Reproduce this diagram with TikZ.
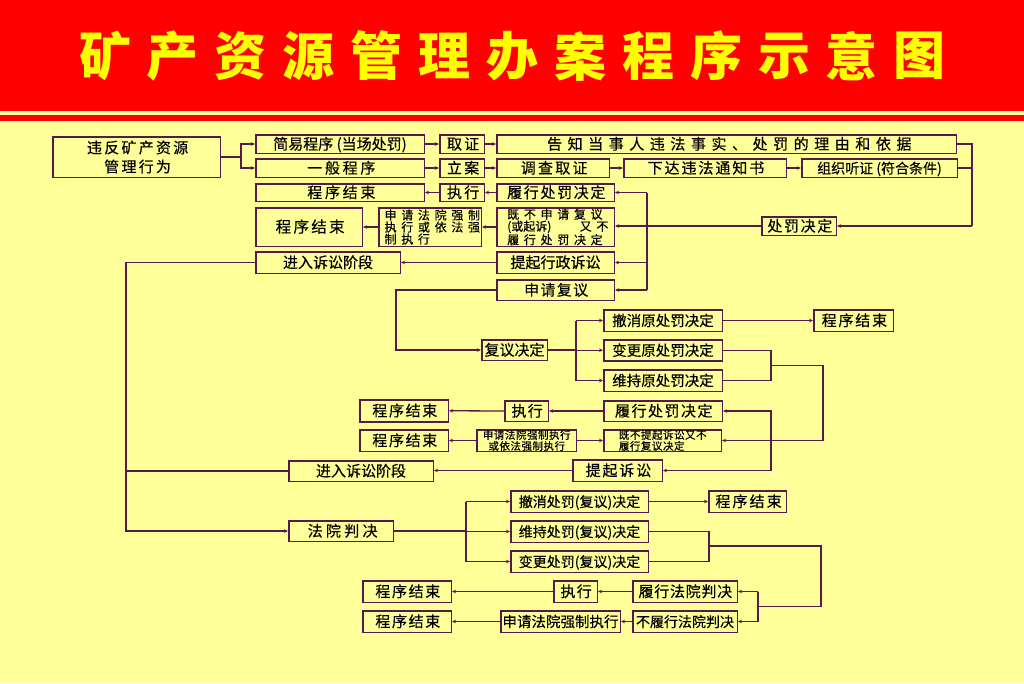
\documentclass[tikz,border=0pt]{standalone}
\usepackage{fontspec}
\setmainfont{Noto Sans CJK SC}[FakeBold=0.4]
\newfontfamily\tfont{Noto Sans CJK SC}
\usetikzlibrary{arrows.meta}
\definecolor{bg}{HTML}{FFFF99}
\definecolor{lnc}{RGB}{85,25,75}
\definecolor{hdr}{HTML}{FF0000}
\definecolor{ttlc}{HTML}{FFFF00}
\newcommand\ls[2]{{\addfontfeature{LetterSpace=#1}#2}\kern-\dimexpr 0.01em*#1\relax}
\newcommand\bx[7][]{\node[box,minimum width={#5-#3-1.5},minimum height={#6-#4-1.5},#1] (#2) at ({(#3+#5)/2},{(#4+#6)/2}) {#7};}
\tikzset{
  box/.style={draw=lnc, line width=1.5pt, fill=bg, inner sep=0pt, text=black,
    font=\fontsize{15}{15}\selectfont, text height=11.5pt, text depth=0.5pt},
  ml/.style={text height={}, text depth={}},
  fs/.style={font=\fontsize{#1}{#1}\selectfont},
  wire/.style={draw=lnc, line width=1.3pt},
  ar/.style={wire, -{Stealth[length=4pt,width=3.5pt]}},
  ttl/.style={text=ttlc, font=\tfont\fontsize{52}{52}\selectfont\bfseries, inner sep=0pt}
}
\begin{document}
\begin{tikzpicture}[x=1pt,y=-1pt]
\useasboundingbox (0,0) rectangle (1024,683);
\fill[bg] (0,0) rectangle (1024,683);
\fill[hdr] (0,0) rectangle (1024,111);
\fill[hdr] (0,115) rectangle (1024,121);
\foreach \c [count=\i] in {矿,产,资,源,管,理,办,案,程,序,示,意,图}
  {\node[ttl] (t\i) at ({105+67.9*(\i-1)},56) {\c};}

% boxes
\bx[ml,align=center,font=\fontsize{15}{19}\selectfont]{a}{52}{136}{221}{178}{\ls{15}{违反矿产资源}\\\ls{15}{管理行为}}
\bx{jy}{255}{134}{425}{154}{简易程序 (当场处罚)}
\bx{yb}{255}{158}{425}{178}{\ls{18}{一般程序}}
\bx{qz}{439}{134}{485}{154}{\ls{15}{取证}}
\bx{la}{439}{158}{485}{178}{\ls{15}{立案}}
\bx{gz}{496}{134}{957}{154}{\ls{37}{告知当事人违法事实、处罚的理由和依据}}
\bx{dc}{496}{158}{610}{178}{\ls{15}{调查取证}}
\bx{xd}{623}{158}{787}{178}{\ls{13}{下达违法通知书}}
\bx[fs=14]{zz}{801}{158}{958}{178}{组织听证 (符合条件)}
\bx{cf}{761}{216}{837}{236}{\ls{11}{处罚决定}}
\bx{js1}{255}{183}{425}{202}{\ls{18}{程序结束}}
\bx{zx1}{439}{183}{485}{202}{\ls{15}{执行}}
\bx{lx1}{496}{183}{615}{202}{\ls{11}{履行处罚决定}}
\bx[fs=15.5]{js2}{255}{207}{363}{247}{\ls{15}{程序结束}}
\bx[ml,align=left,font=\fontsize{12}{12}\selectfont]{sq1}{378}{207}{482}{247}{\ls{39}{申请法院强制}\\\ls{39}{执行或依法强}\\\ls{39}{制执行}}
\bx[ml,font=\fontsize{12}{12}\selectfont]{jb1}{496}{207}{615}{247}{\parbox{96.5pt}{\ls{39}{既不申请复议}\\(或起诉)\hfill\ls{39}{又不}\\\ls{39}{履行处罚决定}}}
\bx{ts1}{496}{251}{615}{274}{提起行政诉讼}
\bx{jr1}{255}{251}{401}{274}{进入诉讼阶段}
\bx{sf}{496}{279}{615}{301}{\ls{9}{申请复议}}
\bx{fj}{481}{339}{548}{361}{复议决定}
\bx[fs=14.5]{cx1}{603}{309}{723}{332}{撤消原处罚决定}
\bx[fs=14.5]{bg1}{603}{339}{723}{361.5}{变更原处罚决定}
\bx[fs=14.5]{wc1}{603}{369}{723}{392}{维持原处罚决定}
\bx{js3}{813}{309}{894}{332}{\ls{12}{程序结束}}
\bx{lx2}{603}{400}{723}{422}{\ls{10}{履行处罚决定}}
\bx{zx2}{504}{400}{549}{422}{\ls{8}{执行}}
\bx{js4}{359}{399}{449}{422.5}{\ls{11}{程序结束}}
\bx{js5}{359}{429}{449}{452}{\ls{11}{程序结束}}
\bx[ml,align=center,font=\fontsize{10.5}{11}\selectfont]{sq2}{476}{429}{577}{452}{\ls{5}{申请法院强制执行}\\\ls{5}{或依法强制执行}}
\bx[ml,align=left,font=\fontsize{10.5}{11}\selectfont]{jb2}{603}{429}{722}{452}{\ls{5}{既不提起诉讼又不}\\\ls{5}{履行复议决定}}
\bx{tq}{572}{459}{663}{482}{\ls{12}{提起诉讼}}
\bx{jr2}{288}{460}{434}{482}{进入诉讼阶段}
\bx{fp}{288}{520}{394}{542}{\ls{22}{法院判决}}
\bx[fs=14]{cx2}{510}{490}{649}{513}{撤消处罚(复议)决定}
\bx[fs=14]{wc2}{510}{520}{649}{543}{维持处罚(复议)决定}
\bx[fs=14]{bg2}{510}{550}{649}{573}{变更处罚(复议)决定}
\bx{js6}{708}{490}{787}{513}{\ls{14}{程序结束}}
\bx{lx3}{632}{580}{738}{603}{\ls{5}{履行法院判决}}
\bx[fs=14]{bl}{632}{610}{738}{633}{不履行法院判决}
\bx{zx3}{553}{580}{598}{603}{\ls{8}{执行}}
\bx[fs=14.5]{sq3}{500}{610}{621}{633}{申请法院强制执行}
\bx{js7}{362}{580}{452}{603}{\ls{11}{程序结束}}
\bx{js8}{362}{610}{452}{633}{\ls{11}{程序结束}}

% helper coordinates
\coordinate (c1) at (241,157);
\coordinate (rx) at (972,226);
\coordinate (bus) at (647,0);
\coordinate (lb) at (126,0);
\coordinate (fb) at (396,0);
\coordinate (f2) at (576,0);
\coordinate (m1) at (771,365.7);
\coordinate (m2) at (823,440.5);
\coordinate (p1) at (466,0);
\coordinate (q1) at (709,546);
\coordinate (q2) at (821,606.5);
\coordinate (q3) at (758,0);

% connectors
\draw[wire] (a.east) -- (c1);
\draw[ar] (c1) |- (jy.west);
\draw[ar] (c1) |- (yb.west);
\draw[ar] (jy.east) -- (qz.west);
\draw[ar] (qz.east) -- (gz.west);
\draw[ar] (yb.east) -- (la.west);
\draw[ar] (la.east) -- (dc.west);
\draw[ar] (dc.east) -- (xd.west);
\draw[ar] (xd.east) -- (zz.west);
\draw[wire] (gz.east) -| (rx);
\draw[wire] (zz.east) -- (zz.east -| rx);
\draw[ar] (rx) -- (cf.east);
\draw[ar] (cf.west) -- (cf.west -| jb1.east);
\draw[wire] (bus |- lx1.east) -- (bus |- sf.east);
\draw[ar] (bus |- lx1.east) -- (lx1.east);
\draw[ar] (bus |- ts1.east) -- (ts1.east);
\draw[ar] (bus |- sf.east) -- (sf.east);
\draw[ar] (lx1.west) -- (zx1.east);
\draw[ar] (zx1.west) -- (js1.east);
\draw[ar] (jb1.west) -- (sq1.east);
\draw[ar] (sq1.west) -- (js2.east);
\draw[ar] (ts1.west) -- (jr1.east);
\draw[ar] (jr1.west) -| (lb |- fp.west) -- (fp.west);
\draw[wire] (jr2.west) -- (jr2.west -| lb);
\draw[ar] (sf.west) -| (fb |- fj.west) -- (fj.west);
\draw[wire] (fj.east) -- (f2 |- fj.east);
\draw[wire] (f2 |- cx1.west) -- (f2 |- wc1.west);
\draw[ar] (f2 |- cx1.west) -- (cx1.west);
\draw[ar] (f2 |- bg1.west) -- (bg1.west);
\draw[ar] (f2 |- wc1.west) -- (wc1.west);
\draw[ar] (cx1.east) -- (js3.west);
\draw[wire] (bg1.east) -| (m1 |- wc1.east) -- (wc1.east);
\draw[ar] (m1) -| (m2) -- (jb2.east);
\draw[ar] (m1 |- tq.east) |- (lx2.east);
\draw[ar] (m1 |- lx2.east) |- (tq.east);
\draw[ar] (lx2.west) -- (zx2.east);
\draw[ar] (zx2.west) -- (js4.east);
\draw[ar] (sq2.east) -- (jb2.west);
\draw[ar] (sq2.west) -- (js5.east);
\draw[ar] (tq.west) -- (tq.west -| jr2.east);
\draw[wire] (fp.east) -- (p1 |- fp.east);
\draw[wire] (p1 |- cx2.west) -- (p1 |- bg2.west);
\draw[ar] (p1 |- cx2.west) -- (cx2.west);
\draw[ar] (p1 |- wc2.west) -- (wc2.west);
\draw[ar] (p1 |- bg2.west) -- (bg2.west);
\draw[ar] (cx2.east) -- (js6.west);
\draw[wire] (wc2.east) -| (q1 |- bg2.east) -- (bg2.east);
\draw[wire] (q1) -| (q2) -- (q3 |- q2);
\draw[wire] (q3 |- lx3.east) -- (q3 |- bl.east);
\draw[ar] (q3 |- lx3.east) -- (lx3.east);
\draw[ar] (q3 |- bl.east) -- (bl.east);
\draw[ar] (lx3.west) -- (zx3.east);
\draw[ar] (zx3.west) -- (js7.east);
\draw[ar] (bl.west) -- (sq3.east);
\draw[ar] (sq3.west) -- (js8.east);
\end{tikzpicture}
\end{document}
